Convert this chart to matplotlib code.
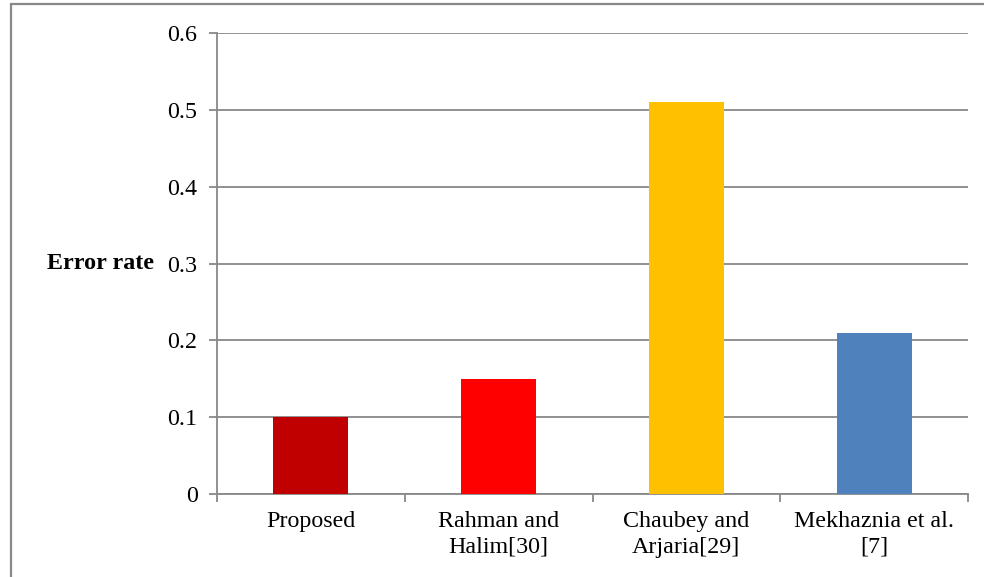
import matplotlib
matplotlib.use("Agg")
import matplotlib.pyplot as plt
from matplotlib.patches import Rectangle

categories = ["Proposed", "Rahman and\nHalim[30]", "Chaubey and\nArjaria[29]", "Mekhaznia et al.\n[7]"]
error_rate = [0.10, 0.15, 0.51, 0.21]
bar_colors = ["#C00000", "#FF0000", "#FFC000", "#4F81BD"]
y_ticks = [0, 0.1, 0.2, 0.3, 0.4, 0.5, 0.6]
y_tick_labels = ["0", "0.1", "0.2", "0.3", "0.4", "0.5", "0.6"]

plt.rcParams["font.family"] = ["Liberation Serif", "DejaVu Serif"]
grey = "#888888"
fs = 17.3

fig = plt.figure(figsize=(9.84, 5.77), dpi=100)
fig.patch.set_facecolor("white")

# outer chart-area frame
fig.patches.append(Rectangle((11 / 984, -0.05), 1.1, 1 - 4 / 577 + 0.05,
                             transform=fig.transFigure, fill=False,
                             edgecolor=grey, linewidth=1.6, zorder=0))

ax = fig.add_axes([217 / 984, 1 - 494 / 577, 751 / 984, 461 / 577])
x = list(range(len(categories)))
ax.bar(x, error_rate, width=0.4, color=bar_colors, zorder=3)

ax.set_xlim(-0.5, len(categories) - 0.5)
ax.set_ylim(0, 0.6)
ax.set_yticks(y_ticks)
ax.set_yticklabels(y_tick_labels, fontsize=fs)
ax.yaxis.grid(True, color=grey, linewidth=1.3, zorder=0)
ax.set_axisbelow(True)

ax.set_xticks([i - 0.5 for i in range(len(categories) + 1)])
ax.set_xticklabels([])
ax.set_xticks(x, minor=True)
ax.set_xticklabels(categories, minor=True, fontsize=fs, linespacing=1.32)
ax.tick_params(axis="x", which="minor", length=0, pad=12)
ax.tick_params(axis="x", which="major", length=6, width=1.3, color=grey)
ax.tick_params(axis="y", length=6, width=1.3, color=grey, pad=8)

for side in ["top", "right"]:
    ax.spines[side].set_visible(False)
for side in ["left", "bottom"]:
    ax.spines[side].set_color(grey)
    ax.spines[side].set_linewidth(1.3)

ax.set_ylabel("Error rate", fontsize=fs, fontweight="bold", rotation=0,
              ha="right", va="center")
ax.yaxis.set_label_coords(-0.084, 0.5)

fig.savefig("out.png", dpi=100, facecolor="white")
